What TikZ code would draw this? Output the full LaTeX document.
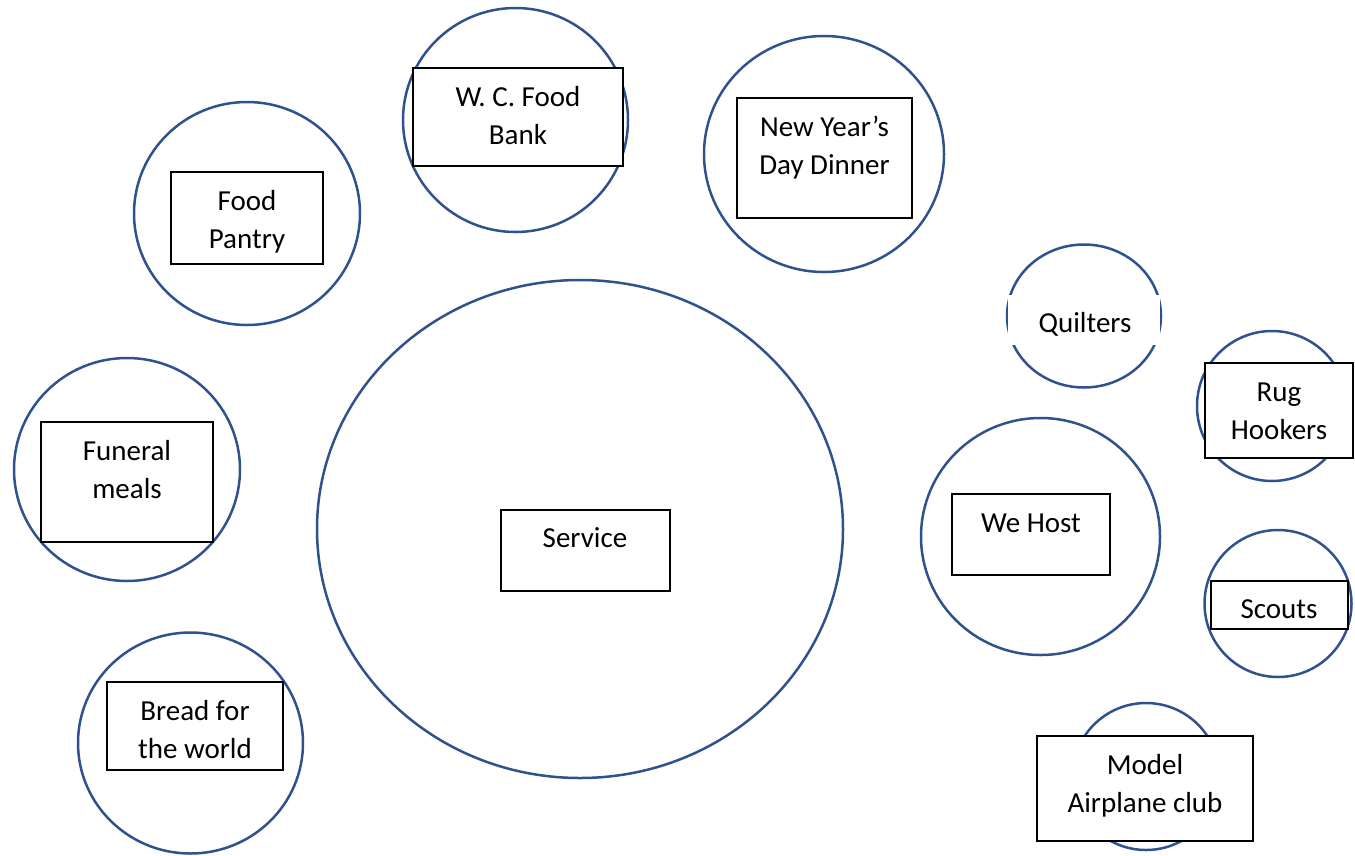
\documentclass[tikz,border=0pt]{standalone}
\usepackage{fontspec}
\setmainfont{Carlito}
\usetikzlibrary{shapes.geometric}
\definecolor{ringblue}{HTML}{2F528F}
\tikzset{
  ring/.style={ellipse, draw=ringblue, line width=2.5pt, inner sep=0pt, fill=none},
  tbox/.style={rectangle, draw=black, line width=2pt, fill=white, inner sep=0pt},
  wbox/.style={rectangle, draw=none, fill=white, inner sep=0pt},
  lbl/.style={anchor=base, align=center, inner sep=0pt, font=\fontsize{29}{38}\selectfont}
}
\begin{document}
\begin{tikzpicture}[x=1pt,y=-1pt]
\useasboundingbox (0,0) rectangle (1355,855);
% circles
\node[ring, minimum width=225, minimum height=224] (cwc) at (515.5,120) {};
\node[ring, minimum width=226, minimum height=223] (cfp) at (247,213.5) {};
\node[ring, minimum width=240, minimum height=236] (cny) at (824,154) {};
\node[ring, minimum width=226, minimum height=223] (cfm) at (127,469.5) {};
\node[ring, minimum width=225, minimum height=221] (cbw) at (190.5,743) {};
\node[ring, minimum width=526, minimum height=498] (csv) at (580,529) {};
\node[ring, minimum width=239, minimum height=237] (cwh) at (1040.5,536.5) {};
\node[ring, minimum width=154, minimum height=143] (cqu) at (1084,316) {};
\node[ring, minimum width=150, minimum height=150] (crh) at (1272,406) {};
\node[ring, minimum width=147, minimum height=147] (csc) at (1278,603.5) {};
\node[ring, minimum width=147, minimum height=147] (cma) at (1146,776.5) {};
% boxes
\node[tbox, minimum width=210, minimum height=98] (bwc) at (518,117) {};
\node[tbox, minimum width=152, minimum height=92] (bfp) at (247,218) {};
\node[tbox, minimum width=175, minimum height=120] (bny) at (824.5,158) {};
\node[tbox, minimum width=172, minimum height=120] (bfm) at (127,482) {};
\node[tbox, minimum width=176, minimum height=88] (bbw) at (195,726) {};
\node[tbox, minimum width=169, minimum height=81] (bsv) at (585.5,550.5) {};
\node[tbox, minimum width=158, minimum height=81] (bwh) at (1031,534.5) {};
\node[wbox, minimum width=152, minimum height=50] (bqu) at (1084,320) {};
\node[tbox, minimum width=148, minimum height=95] (brh) at (1279,410.5) {};
\node[tbox, minimum width=137, minimum height=48] (bsc) at (1279.5,605) {};
\node[tbox, minimum width=216, minimum height=105] (bma) at (1145,788.5) {};
% labels (base anchor = last line baseline)
\node[lbl] (twc) at (518,144) {W. C. Food\\Bank};
\node[lbl] (tfp) at (247,248) {Food\\Pantry};
\node[lbl] (tny) at (824.5,174) {New Year’s\\Day Dinner};
\node[lbl] (tfm) at (127,498) {Funeral\\meals};
\node[lbl] (tbw) at (195,758) {Bread for\\the world};
\node[lbl] (tsv) at (585,547) {Service};
\node[lbl] (twh) at (1031,532) {We Host};
\node[lbl] (tqu) at (1085,332) {Quilters};
\node[lbl] (trh) at (1279,439) {Rug\\Hookers};
\node[lbl] (tsc) at (1279,618) {Scouts};
\node[lbl] (tma) at (1145,812) {Model\\Airplane club};
\end{tikzpicture}
\end{document}
